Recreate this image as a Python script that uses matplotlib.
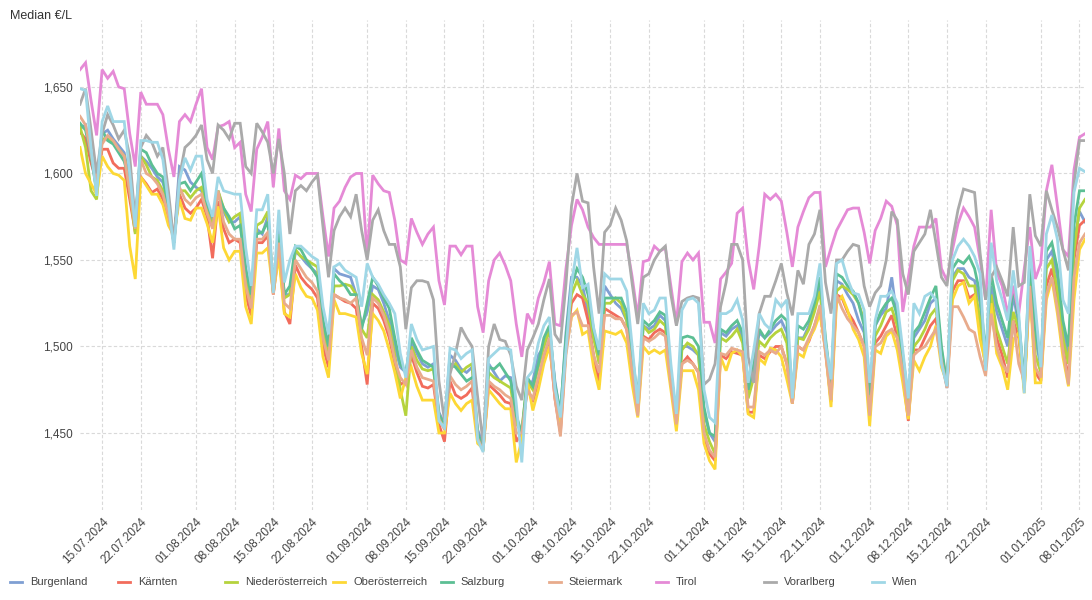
import matplotlib
matplotlib.use('Agg')
import matplotlib.pyplot as plt
import matplotlib.dates as mdates
import pandas as pd
from matplotlib.lines import Line2D
from matplotlib.ticker import FuncFormatter

plt.rcParams['font.family'] = ['Liberation Sans', 'DejaVu Sans']

# ===== Daten: Median-Preis je Bundesland, in 1/1000 €/L, täglich ab 11.07.2024 =====
START = '2024-07-11'

burgenland = [
    1626, 1628, 1612, 1590, 1623, 1625, 1620, 1616, 1612, 1596,
    1572, 1610, 1607, 1603, 1598, 1595, 1582, 1560, 1604, 1602,
    1595, 1592, 1590, 1580, 1572, 1590, 1578, 1572, 1572, 1575,
    1545, 1528, 1568, 1565, 1575, 1535, 1568, 1530, 1530, 1555,
    1552, 1548, 1545, 1542, 1515, 1500, 1545, 1542, 1541, 1540,
    1530, 1512, 1520, 1535, 1533, 1525, 1515, 1500, 1488, 1485,
    1502, 1496, 1490, 1488, 1490, 1462, 1455, 1495, 1492, 1487,
    1485, 1488, 1452, 1443, 1490, 1485, 1480, 1483, 1482, 1458,
    1448, 1478, 1480, 1495, 1500, 1510, 1480, 1460, 1508, 1540,
    1540, 1535, 1520, 1505, 1495, 1535, 1530, 1525, 1522, 1515,
    1490, 1468, 1512, 1510, 1512, 1518, 1515, 1485, 1458, 1500,
    1500, 1498, 1495, 1462, 1450, 1445, 1508, 1506, 1510, 1512,
    1505, 1472, 1488, 1508, 1505, 1508, 1512, 1515, 1508, 1470,
    1505, 1505, 1512, 1522, 1536, 1502, 1476, 1538, 1536, 1530,
    1525, 1515, 1508, 1470, 1512, 1518, 1522, 1540, 1515, 1492,
    1468, 1505, 1510, 1515, 1525, 1528, 1498, 1476, 1540, 1545,
    1545, 1540, 1538, 1525, 1493, 1535, 1520, 1510, 1500, 1530,
    1512, 1478, 1545, 1505, 1488, 1550, 1555, 1540, 1510, 1495,
    1560, 1578, 1572,
]

kaernten = [
    1624, 1620, 1606, 1595, 1614, 1614, 1606, 1603, 1603, 1585,
    1566, 1598, 1594, 1589, 1591, 1585, 1574, 1565, 1588, 1580,
    1577, 1580, 1585, 1575, 1551, 1584, 1568, 1560, 1562, 1560,
    1530, 1518, 1560, 1560, 1564, 1530, 1556, 1520, 1513, 1547,
    1540, 1536, 1533, 1528, 1500, 1488, 1530, 1528, 1526, 1525,
    1522, 1500, 1478, 1525, 1522, 1515, 1505, 1490, 1478, 1480,
    1495, 1485, 1477, 1476, 1478, 1455, 1445, 1480, 1472, 1470,
    1472, 1476, 1447, 1441, 1478, 1475, 1472, 1468, 1467, 1445,
    1450, 1476, 1468, 1480, 1493, 1503, 1470, 1450, 1500, 1525,
    1530, 1528, 1515, 1495, 1478, 1522, 1520, 1518, 1516, 1510,
    1485, 1462, 1506, 1504, 1508, 1510, 1508, 1480, 1455, 1490,
    1494, 1490, 1485, 1448, 1438, 1434, 1495, 1493, 1497, 1496,
    1495, 1462, 1462, 1495, 1493, 1497, 1500, 1500, 1490, 1467,
    1500, 1498, 1503, 1512, 1522, 1498, 1468, 1530, 1528, 1520,
    1515, 1508, 1500, 1460, 1502, 1506, 1512, 1518, 1505, 1483,
    1457, 1498, 1498, 1505, 1512, 1516, 1492, 1477, 1532, 1538,
    1538, 1528, 1530, 1510, 1488, 1528, 1505, 1495, 1482, 1515,
    1505, 1476, 1538, 1485, 1480, 1535, 1545, 1525, 1500, 1480,
    1550, 1570, 1573,
]

niederoesterreich = [
    1627, 1615, 1590, 1585, 1620, 1620, 1618, 1614, 1610, 1590,
    1565, 1610, 1605, 1598, 1596, 1590, 1578, 1562, 1590, 1590,
    1586, 1590, 1592, 1578, 1570, 1590, 1580, 1572, 1575, 1577,
    1540, 1525, 1570, 1572, 1578, 1533, 1562, 1528, 1530, 1556,
    1552, 1550, 1548, 1546, 1510, 1496, 1535, 1535, 1536, 1535,
    1530, 1510, 1505, 1530, 1527, 1520, 1512, 1495, 1475, 1460,
    1500, 1492, 1487, 1486, 1487, 1460, 1455, 1487, 1490, 1485,
    1488, 1490, 1448, 1440, 1485, 1482, 1480, 1478, 1476, 1455,
    1452, 1480, 1475, 1488, 1500, 1510, 1475, 1458, 1500, 1530,
    1538, 1530, 1525, 1505, 1490, 1525, 1525, 1528, 1525, 1515,
    1488, 1465, 1512, 1508, 1510, 1515, 1512, 1482, 1456, 1498,
    1502, 1500, 1495, 1455, 1445, 1438, 1505, 1503, 1506, 1510,
    1502, 1470, 1482, 1503, 1500, 1505, 1508, 1510, 1502, 1468,
    1505, 1504, 1510, 1520, 1532, 1500, 1472, 1532, 1535, 1533,
    1530, 1525, 1515, 1465, 1506, 1512, 1520, 1522, 1512, 1490,
    1465, 1500, 1504, 1510, 1518, 1522, 1496, 1478, 1538, 1544,
    1542, 1535, 1535, 1515, 1492, 1530, 1510, 1500, 1490, 1520,
    1510, 1475, 1540, 1495, 1485, 1545, 1550, 1532, 1505, 1490,
    1555, 1580, 1585,
]

oberoesterreich = [
    1615, 1600, 1594, 1588, 1610, 1604, 1600, 1599, 1596, 1558,
    1539, 1598, 1593, 1588, 1588, 1582, 1570, 1564, 1585, 1574,
    1573, 1580, 1580, 1571, 1560, 1581, 1557, 1550, 1555, 1555,
    1523, 1513, 1554, 1554, 1557, 1531, 1552, 1519, 1517, 1542,
    1534, 1529, 1528, 1521, 1494, 1482, 1527, 1519, 1519, 1518,
    1517, 1496, 1484, 1519, 1515, 1509, 1498, 1485, 1470, 1482,
    1488, 1477, 1469, 1469, 1469, 1450, 1450, 1473, 1467, 1463,
    1467, 1469, 1444, 1441, 1475, 1471, 1467, 1464, 1464, 1433,
    1446, 1480, 1463, 1475, 1490, 1500, 1475, 1453, 1498, 1517,
    1521, 1507, 1509, 1488, 1475, 1509, 1508, 1507, 1509, 1502,
    1478, 1459, 1500, 1496, 1498, 1496, 1498, 1475, 1451, 1486,
    1486, 1486, 1475, 1444, 1434, 1429, 1494, 1486, 1496, 1498,
    1494, 1461, 1459, 1493, 1490, 1499, 1498, 1494, 1481, 1467,
    1496, 1494, 1504, 1510, 1519, 1498, 1465, 1525, 1529, 1521,
    1510, 1504, 1494, 1454, 1498, 1496, 1506, 1509, 1498, 1479,
    1458, 1492, 1486, 1494, 1500, 1512, 1488, 1479, 1527, 1535,
    1537, 1525, 1529, 1504, 1490, 1525, 1496, 1488, 1475, 1504,
    1508, 1473, 1535, 1479, 1479, 1527, 1539, 1519, 1494, 1477,
    1527, 1556, 1562,
]

salzburg = [
    1629, 1625, 1610, 1590, 1625, 1619, 1617, 1612, 1607, 1595,
    1570, 1614, 1612, 1605, 1600, 1598, 1580, 1560, 1594, 1595,
    1590, 1595, 1600, 1582, 1575, 1588, 1580, 1575, 1568, 1570,
    1545, 1530, 1565, 1566, 1572, 1532, 1565, 1530, 1535, 1558,
    1556, 1550, 1545, 1540, 1515, 1500, 1542, 1538, 1535, 1530,
    1530, 1510, 1525, 1540, 1535, 1528, 1522, 1505, 1490, 1485,
    1505, 1498, 1492, 1490, 1488, 1460, 1456, 1490, 1488, 1484,
    1480, 1482, 1450, 1442, 1488, 1487, 1490, 1485, 1480, 1460,
    1450, 1482, 1477, 1490, 1505, 1512, 1478, 1462, 1505, 1535,
    1545, 1540, 1530, 1510, 1495, 1528, 1528, 1528, 1528, 1520,
    1495, 1470, 1515, 1512, 1515, 1520, 1518, 1485, 1460, 1505,
    1506, 1505, 1500, 1465, 1450, 1448, 1510, 1508, 1512, 1515,
    1508, 1475, 1490, 1510, 1505, 1510, 1515, 1518, 1515, 1472,
    1512, 1510, 1515, 1525, 1540, 1505, 1478, 1542, 1540, 1535,
    1532, 1525, 1512, 1472, 1512, 1520, 1525, 1528, 1518, 1495,
    1470, 1508, 1512, 1520, 1528, 1535, 1500, 1478, 1545, 1550,
    1548, 1552, 1545, 1530, 1495, 1542, 1525, 1515, 1505, 1535,
    1515, 1480, 1550, 1510, 1490, 1555, 1560, 1545, 1515, 1500,
    1570, 1590, 1590,
]

steiermark = [
    1633, 1628, 1611, 1595, 1617, 1622, 1619, 1614, 1610, 1590,
    1568, 1608, 1600, 1598, 1594, 1588, 1576, 1560, 1592, 1585,
    1582, 1586, 1588, 1577, 1568, 1590, 1572, 1565, 1562, 1562,
    1535, 1522, 1562, 1562, 1566, 1530, 1560, 1525, 1522, 1550,
    1545, 1540, 1537, 1532, 1505, 1492, 1530, 1528, 1527, 1525,
    1528, 1505, 1495, 1528, 1525, 1518, 1508, 1492, 1482, 1478,
    1498, 1488, 1482, 1481, 1480, 1458, 1452, 1483, 1478, 1475,
    1477, 1480, 1447, 1440, 1480, 1477, 1475, 1472, 1470, 1450,
    1450, 1475, 1470, 1482, 1495, 1505, 1470, 1448, 1495, 1518,
    1520, 1512, 1512, 1495, 1485, 1518, 1518, 1516, 1516, 1510,
    1485, 1460, 1505, 1503, 1505, 1508, 1506, 1478, 1455, 1490,
    1492, 1490, 1485, 1450, 1440, 1436, 1496, 1495, 1499, 1498,
    1497, 1465, 1465, 1497, 1495, 1498, 1496, 1500, 1490, 1467,
    1500, 1498, 1505, 1512, 1524, 1496, 1469, 1530, 1522, 1516,
    1512, 1508, 1500, 1460, 1500, 1502, 1508, 1510, 1505, 1485,
    1460, 1495, 1498, 1500, 1505, 1510, 1492, 1476, 1523, 1523,
    1517, 1510, 1508, 1494, 1483, 1519, 1500, 1490, 1485, 1515,
    1490, 1480, 1535, 1488, 1482, 1530, 1540, 1522, 1498, 1478,
    1540, 1560, 1565,
]

tirol = [
    1660, 1664, 1642, 1622, 1660, 1655, 1659, 1650, 1649, 1623,
    1604, 1647, 1640, 1640, 1640, 1634, 1614, 1598, 1630, 1634,
    1630, 1640, 1649, 1615, 1608, 1627, 1628, 1630, 1615, 1618,
    1588, 1578, 1614, 1621, 1630, 1592, 1626, 1590, 1585, 1599,
    1597, 1600, 1600, 1600, 1575, 1552, 1580, 1584, 1592, 1598,
    1600, 1600, 1552, 1599, 1594, 1590, 1589, 1573, 1550, 1548,
    1574, 1566, 1559, 1565, 1569, 1538, 1524, 1558, 1558, 1553,
    1558, 1558, 1523, 1508, 1538, 1550, 1554, 1547, 1538, 1513,
    1494, 1519, 1513, 1528, 1537, 1549, 1513, 1512, 1545, 1570,
    1585, 1579, 1569, 1563, 1559, 1559, 1559, 1559, 1559, 1559,
    1540, 1517, 1549, 1550, 1558, 1555, 1557, 1535, 1513, 1549,
    1554, 1550, 1554, 1514, 1514, 1502, 1539, 1543, 1548, 1577,
    1580, 1550, 1533, 1558, 1588, 1585, 1588, 1584, 1566, 1546,
    1569, 1578, 1586, 1589, 1589, 1546, 1557, 1567, 1573, 1579,
    1580, 1580, 1566, 1548, 1567, 1574, 1584, 1581, 1570, 1520,
    1540, 1558, 1569, 1569, 1569, 1574, 1545, 1538, 1556, 1571,
    1580, 1575, 1569, 1550, 1527, 1579, 1543, 1535, 1519, 1535,
    1519, 1545, 1569, 1539, 1548, 1590, 1605, 1581, 1556, 1552,
    1602, 1621, 1623,
]

vorarlberg = [
    1640, 1649, 1625, 1600, 1623, 1634, 1628, 1620, 1625, 1610,
    1572, 1615, 1622, 1618, 1610, 1615, 1590, 1560, 1598, 1615,
    1618, 1622, 1628, 1608, 1600, 1628, 1625, 1620, 1629, 1629,
    1604, 1600, 1629, 1624, 1618, 1600, 1620, 1600, 1565, 1590,
    1593, 1590, 1595, 1599, 1569, 1540, 1567, 1575, 1580, 1575,
    1588, 1567, 1550, 1573, 1579, 1567, 1559, 1559, 1546, 1510,
    1534, 1538, 1538, 1537, 1527, 1480, 1457, 1484, 1496, 1511,
    1505, 1500, 1471, 1444, 1500, 1513, 1504, 1503, 1495, 1477,
    1469, 1498, 1505, 1513, 1527, 1539, 1507, 1502, 1536, 1581,
    1600, 1584, 1583, 1546, 1519, 1566, 1570, 1580, 1573, 1561,
    1536, 1513, 1540, 1542, 1550, 1555, 1558, 1530, 1512, 1526,
    1528, 1529, 1528, 1478, 1481, 1490, 1523, 1537, 1559, 1559,
    1550, 1494, 1479, 1519, 1529, 1529, 1538, 1548, 1531, 1518,
    1544, 1536, 1559, 1565, 1579, 1537, 1519, 1550, 1550, 1555,
    1559, 1558, 1535, 1523, 1531, 1535, 1550, 1578, 1573, 1542,
    1530, 1555, 1560, 1565, 1579, 1560, 1540, 1535, 1562, 1579,
    1591, 1590, 1589, 1554, 1527, 1540, 1546, 1538, 1529, 1569,
    1535, 1537, 1588, 1564, 1558, 1590, 1579, 1569, 1556, 1544,
    1594, 1619, 1619,
]

wien = [
    1649, 1648, 1614, 1587, 1630, 1639, 1630, 1630, 1630, 1600,
    1569, 1619, 1619, 1618, 1618, 1608, 1583, 1556, 1596, 1609,
    1602, 1610, 1610, 1585, 1575, 1598, 1590, 1589, 1588, 1588,
    1557, 1535, 1579, 1579, 1588, 1531, 1579, 1537, 1550, 1558,
    1558, 1555, 1552, 1550, 1523, 1507, 1546, 1548, 1544, 1542,
    1540, 1523, 1548, 1540, 1536, 1530, 1525, 1519, 1496, 1482,
    1513, 1504, 1498, 1499, 1500, 1457, 1453, 1499, 1498, 1493,
    1496, 1498, 1446, 1439, 1493, 1496, 1499, 1499, 1498, 1467,
    1433, 1482, 1486, 1502, 1512, 1517, 1476, 1459, 1498, 1536,
    1557, 1534, 1536, 1511, 1498, 1542, 1539, 1539, 1539, 1532,
    1500, 1467, 1525, 1519, 1521, 1528, 1528, 1490, 1461, 1521,
    1527, 1528, 1525, 1475, 1459, 1456, 1519, 1519, 1521, 1527,
    1515, 1479, 1498, 1519, 1513, 1510, 1527, 1523, 1527, 1470,
    1519, 1519, 1519, 1529, 1548, 1502, 1481, 1548, 1550, 1539,
    1531, 1530, 1521, 1479, 1515, 1529, 1529, 1532, 1525, 1498,
    1470, 1525, 1519, 1529, 1531, 1527, 1490, 1477, 1550, 1558,
    1562, 1558, 1552, 1542, 1486, 1560, 1538, 1527, 1515, 1544,
    1519, 1473, 1558, 1523, 1488, 1565, 1576, 1562, 1527, 1519,
    1589, 1603, 1601,
]

names = ["Burgenland", "Kärnten", "Niederösterreich", "Oberösterreich",
         "Salzburg", "Steiermark", "Tirol", "Vorarlberg", "Wien"]
series = [burgenland, kaernten, niederoesterreich, oberoesterreich,
          salzburg, steiermark, tirol, vorarlberg, wien]
colors = ["#7f9fd3", "#f26c5c", "#b5d33d", "#fdd835", "#5cbf94",
          "#e8ab8c", "#e58ad6", "#aaaaaa", "#9fd7e6"]

# ===== Plot =====
fig = plt.figure(figsize=(10.92, 6.0), dpi=100)
ax = fig.add_axes([0.0733, 0.15, 0.9203, 0.8167])

for name, vals, col in zip(names, series, colors):
    dates = pd.date_range(START, periods=len(vals), freq='D')
    ax.plot(dates, [v / 1000 for v in vals], color=col, linewidth=2.0,
            label=name, solid_joinstyle='miter')

last = pd.date_range(START, periods=len(tirol), freq='D')[-1]
ax.set_xlim(pd.Timestamp(START), last)
ax.set_ylim(1.4055, 1.6887)

ax.set_yticks([1.45, 1.50, 1.55, 1.60, 1.65])
ax.yaxis.set_major_formatter(FuncFormatter(lambda v, p: f"{v:.3f}".replace('.', ',')))
ax.xaxis.set_major_locator(mdates.DayLocator(bymonthday=[1, 8, 15, 22]))
ax.xaxis.set_major_formatter(mdates.DateFormatter('%d.%m.%Y'))

for lbl in ax.get_xticklabels():
    lbl.set_rotation(45)
    lbl.set_ha('right')
    lbl.set_rotation_mode('anchor')

ax.tick_params(axis='both', length=0, labelsize=8.5, colors='#444444')
ax.tick_params(axis='y', pad=5)
ax.tick_params(axis='x', pad=4)

for s in ax.spines.values():
    s.set_visible(False)
ax.grid(True, color='#d9d9d9', linestyle=(0, (3, 2)), linewidth=0.8)
ax.set_axisbelow(True)

fig.text(0.009, 0.983, "Median €/L", fontsize=9, color='#333333', va='top', ha='left')

# Legende unten, gleich breite Spalten
W, H = 1092, 600
leg_y = 1 - 582 / H
for k, (name, col) in enumerate(zip(names, colors)):
    x0 = 10 + 107.7 * k
    fig.add_artist(Line2D([x0 / W, (x0 + 12) / W], [leg_y, leg_y], color=col,
                          linewidth=2.0, transform=fig.transFigure))
    fig.text((x0 + 20) / W, leg_y, name, fontsize=8, color='#444444',
             va='center', ha='left')

fig.savefig('out.png', dpi=100)
